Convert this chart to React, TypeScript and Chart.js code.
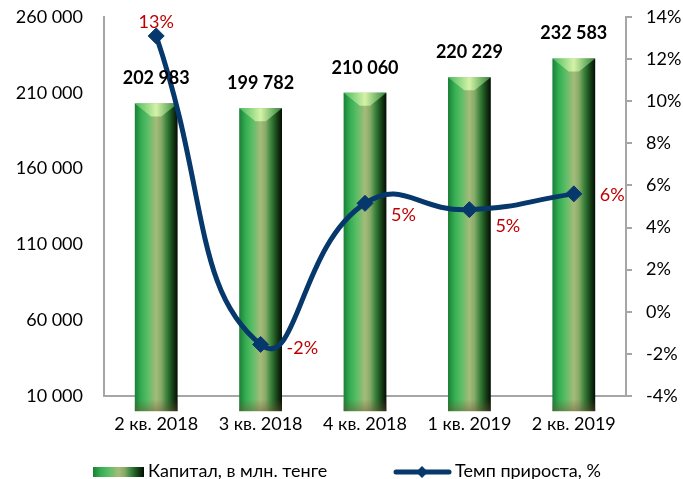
import React, { useEffect, useRef } from 'react';
import { Chart, registerables } from 'chart.js';

Chart.register(...registerables);

const categories = ['2 кв. 2018', '3 кв. 2018', '4 кв. 2018', '1 кв. 2019', '2 кв. 2019'];
const capital = [202983, 199782, 210060, 220229, 232583];
const growth = [13.1, -1.55, 5.15, 4.85, 5.6];
const leftTicks = [10000, 60000, 110000, 160000, 210000, 260000];
const rightTicks = [-4, -2, 0, 2, 4, 6, 8, 10, 12, 14];
const capitalLabel = 'Капитал, в млн. тенге';
const growthLabel = 'Темп прироста, %';

// placement of growth labels relative to their point: [dx, dy, align]
const growthLabelPlacement: [number, number, CanvasTextAlign][] = [
  [0, -14, 'center'],
  [26, 4, 'left'],
  [26, 12, 'left'],
  [26, 17, 'left'],
  [26, 1, 'left'],
];

const FONT = 'Lato, "Open Sans", sans-serif';
const NAVY = '#06386c';
const AXIS = '#a6a6a6';

const fmt = (v: number) => String(v).replace(/\B(?=(\d{3})+(?!\d))/g, ' ');

function barGradient(ctx: CanvasRenderingContext2D, x0: number, x1: number) {
  const g = ctx.createLinearGradient(x0, 0, x1, 0);
  g.addColorStop(0, '#1a7f36');
  g.addColorStop(0.15, '#35ad52');
  g.addColorStop(0.3, '#58bd66');
  g.addColorStop(0.5, '#a6bb7a');
  g.addColorStop(0.62, '#86aa68');
  g.addColorStop(0.75, '#377f39');
  g.addColorStop(0.88, '#174317');
  g.addColorStop(1, '#040c04');
  return g;
}

const barPainter = {
  id: 'barPainter',
  afterDatasetDraw(chart: any, args: any) {
    if (args.index !== 0) return;
    const ctx: CanvasRenderingContext2D = chart.ctx;
    const meta = chart.getDatasetMeta(0);
    ctx.save();
    meta.data.forEach((el: any) => {
      const { x, y, base, width } = el.getProps(['x', 'y', 'base', 'width'], true);
      const x0 = x - width / 2;
      const x1 = x + width / 2;
      const h = base - y;
      ctx.fillStyle = barGradient(ctx, x0, x1);
      ctx.fillRect(x0, y, width, h);
      // top bevel
      const tg = ctx.createLinearGradient(x0, 0, x1, 0);
      tg.addColorStop(0, 'rgba(80,190,95,0.9)');
      tg.addColorStop(0.5, 'rgba(215,245,170,0.95)');
      tg.addColorStop(1, 'rgba(50,140,60,0.9)');
      ctx.fillStyle = tg;
      ctx.beginPath();
      ctx.moveTo(x0, y);
      ctx.lineTo(x1, y);
      ctx.lineTo(x + width * 0.12, y + 13);
      ctx.lineTo(x - width * 0.12, y + 13);
      ctx.closePath();
      ctx.fill();
      // bottom shading
      const bg = ctx.createLinearGradient(0, base - 12, 0, base);
      bg.addColorStop(0, 'rgba(110,80,50,0)');
      bg.addColorStop(1, 'rgba(110,80,50,0.45)');
      ctx.fillStyle = bg;
      ctx.fillRect(x0, base - 12, width, 12);
    });
    ctx.restore();
  },
};

const labelPainter = {
  id: 'labelPainter',
  afterDatasetsDraw(chart: any) {
    const ctx: CanvasRenderingContext2D = chart.ctx;
    ctx.save();
    ctx.textBaseline = 'middle';
    const barMeta = chart.getDatasetMeta(0);
    ctx.font = `bold 18px ${FONT}`;
    ctx.fillStyle = '#000';
    ctx.textAlign = 'center';
    barMeta.data.forEach((el: any, i: number) => {
      ctx.fillText(fmt(capital[i]), el.x, el.y - 25);
    });
    const lineMeta = chart.getDatasetMeta(1);
    ctx.font = `18px ${FONT}`;
    ctx.fillStyle = '#c00000';
    lineMeta.data.forEach((el: any, i: number) => {
      const [dx, dy, align] = growthLabelPlacement[i];
      ctx.textAlign = align;
      ctx.fillText(`${Math.round(growth[i])}%`, el.x + dx, el.y + dy);
    });
    ctx.restore();
  },
};

const legendPainter = {
  id: 'legendPainter',
  afterDraw(chart: any) {
    const ctx: CanvasRenderingContext2D = chart.ctx;
    ctx.save();
    const cy = 472;
    // bar swatch
    ctx.fillStyle = barGradient(ctx, 93, 144);
    ctx.fillRect(93, cy - 5, 51, 10);
    ctx.font = `18px ${FONT}`;
    ctx.fillStyle = '#000';
    ctx.textAlign = 'left';
    ctx.textBaseline = 'middle';
    ctx.fillText(capitalLabel, 148, cy - 1);
    // line swatch
    ctx.strokeStyle = NAVY;
    ctx.lineWidth = 5;
    ctx.lineCap = 'round';
    ctx.beginPath();
    ctx.moveTo(396, cy);
    ctx.lineTo(449, cy);
    ctx.stroke();
    ctx.fillStyle = NAVY;
    ctx.beginPath();
    ctx.moveTo(422, cy - 6);
    ctx.lineTo(428, cy);
    ctx.lineTo(422, cy + 6);
    ctx.lineTo(416, cy);
    ctx.closePath();
    ctx.fill();
    ctx.fillStyle = '#000';
    ctx.fillText(growthLabel, 455, cy - 1);
    ctx.restore();
  },
};

export default function App() {
  const ref = useRef<HTMLCanvasElement>(null);
  useEffect(() => {
    if (!ref.current) return;
    const tickFont = { family: FONT, size: 18 };
    const chart = new Chart(ref.current, {
      data: {
        labels: categories,
        datasets: [
          {
            type: 'bar',
            label: capitalLabel,
            data: capital,
            yAxisID: 'y',
            backgroundColor: 'rgba(0,0,0,0)',
            borderWidth: 0,
            barPercentage: 0.41,
            categoryPercentage: 1,
            order: 1,
          },
          {
            type: 'line',
            label: growthLabel,
            data: growth,
            yAxisID: 'y1',
            borderColor: NAVY,
            backgroundColor: NAVY,
            borderWidth: 5,
            tension: 0.5,
            pointStyle: 'rectRot',
            pointRadius: 8,
            pointBorderWidth: 1,
            pointBackgroundColor: NAVY,
            pointBorderColor: NAVY,
            clip: false,
            order: 0,
          },
        ],
      } as any,
      options: {
        responsive: true,
        maintainAspectRatio: false,
        animation: false,
        layout: { padding: { top: 17, left: 0, right: 0, bottom: 0 } },
        plugins: { legend: { display: false }, tooltip: { enabled: false } },
        scales: {
          x: {
            grid: { display: false, drawTicks: false },
            border: { display: true, color: AXIS, width: 2 },
            ticks: { font: tickFont, color: '#000', padding: 17, maxRotation: 0, autoSkip: false },
            afterFit: (s: any) => { s.height = 83; },
          },
          y: {
            position: 'left',
            min: 10000,
            max: 260000,
            afterBuildTicks: (s: any) => { s.ticks = leftTicks.map((v) => ({ value: v })); },
            grid: { display: false, drawTicks: false },
            border: { display: true, color: AXIS, width: 2 },
            ticks: { font: tickFont, color: '#000', padding: 21, callback: (v: any) => fmt(Number(v)) },
            afterFit: (s: any) => { s.width = 104; s.paddingTop = 0; s.paddingBottom = 0; },
          },
          y1: {
            position: 'right',
            min: -4,
            max: 14,
            afterBuildTicks: (s: any) => { s.ticks = rightTicks.map((v) => ({ value: v })); },
            grid: { display: true, drawOnChartArea: false, drawTicks: true, tickLength: 6, color: AXIS, lineWidth: 2 },
            border: { display: true, color: AXIS, width: 2 },
            ticks: { font: tickFont, color: '#000', padding: 14, callback: (v: any) => `${v}%` },
            afterFit: (s: any) => { s.width = 57; s.paddingTop = 0; s.paddingBottom = 0; },
          },
        },
      } as any,
      plugins: [barPainter, labelPainter, legendPainter],
    });
    return () => chart.destroy();
  }, []);
  return (
    <div style={{ position: 'absolute', left: 0, top: 0, width: 683, height: 479 }}>
      <canvas ref={ref} />
    </div>
  );
}
